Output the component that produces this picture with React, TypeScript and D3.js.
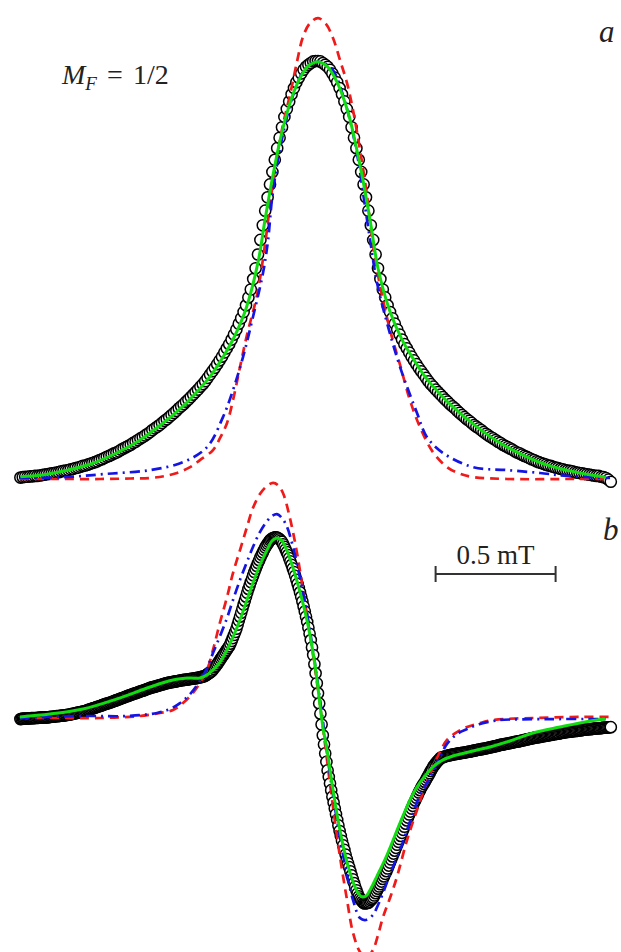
import { useEffect, useRef } from 'react';
import * as d3 from 'd3';

const W = 621;
const H = 952;

// field sweeps of the recorded spectra (mT, relative to the line centre)
const sweepStart = -1.24;
const sweepStepA = 0.01;
const sweepStepB = 0.005;

// a: absorption line, % of maximum (open circles)
const absData = [
  0.1, 0.2, 0.3, 0.3, 0.4, 0.4, 0.5, 0.5, 0.6, 0.7,
  0.8, 0.9, 1.0, 1.1, 1.2, 1.3, 1.4, 1.6, 1.7, 1.8,
  1.9, 2.1, 2.2, 2.4, 2.5, 2.7, 2.9, 3.0, 3.2, 3.4,
  3.6, 3.8, 4.0, 4.3, 4.5, 4.8, 5.1, 5.3, 5.6, 5.9,
  6.1, 6.4, 6.8, 7.1, 7.4, 7.7, 8.0, 8.4, 8.7, 9.1,
  9.5, 9.8, 10.2, 10.6, 11.0, 11.5, 11.9, 12.3, 12.7, 13.2,
  13.7, 14.1, 14.6, 15.1, 15.6, 16.1, 16.7, 17.2, 17.7, 18.3,
  18.8, 19.4, 20.0, 20.6, 21.2, 21.9, 22.5, 23.2, 24.0, 24.8,
  25.6, 26.4, 27.3, 28.2, 29.1, 30.1, 31.1, 32.1, 33.2, 34.4,
  35.6, 37.0, 38.3, 39.8, 41.4, 43.3, 45.2, 47.7, 50.3, 53.6,
  57.1, 60.6, 64.1, 67.3, 70.4, 73.4, 76.3, 79.1, 81.6, 84.1,
  86.6, 88.5, 90.3, 92.0, 93.5, 94.9, 96.0, 97.0, 97.9, 98.6,
  99.1, 99.5, 99.9, 100.0,
  100.0, 99.9, 99.5, 99.1, 98.6, 97.9, 97.0, 96.0, 94.9, 93.5,
  92.0, 90.3, 88.5, 86.6, 84.1, 81.6, 79.1, 76.3, 73.4, 70.4,
  67.3, 64.1, 60.6, 57.1, 53.6, 50.3, 47.7, 45.2, 43.3, 41.4,
  39.8, 38.3, 37.0, 35.6, 34.4, 33.2, 32.1, 31.1, 30.1, 29.1,
  28.2, 27.3, 26.4, 25.6, 24.8, 24.0, 23.2, 22.5, 21.9, 21.2,
  20.6, 20.0, 19.4, 18.8, 18.3, 17.7, 17.2, 16.7, 16.1, 15.6,
  15.1, 14.6, 14.1, 13.7, 13.2, 12.7, 12.3, 11.9, 11.5, 11.0,
  10.6, 10.2, 9.8, 9.5, 9.1, 8.7, 8.4, 8.0, 7.7, 7.4,
  7.1, 6.8, 6.4, 6.1, 5.9, 5.6, 5.3, 5.1, 4.8, 4.5,
  4.3, 4.0, 3.8, 3.6, 3.4, 3.2, 3.0, 2.9, 2.7, 2.5,
  2.4, 2.2, 2.1, 1.9, 1.8, 1.7, 1.6, 1.4, 1.3, 1.2,
  1.1, 1.0, 0.9, 0.8, 0.7, 0.6, 0.5, 0.5, 0.3, 0.2,
  0.0, -0.4, -0.9,
];

// b: first derivative, % of maximum (open circles)
const derivData = [
  -0.6, -0.5, -0.4, -0.4, -0.4, -0.3, -0.3, -0.2, -0.2, -0.1,
  -0.1, -0.1, 0.0, 0.0, 0.1, 0.1, 0.2, 0.2, 0.3, 0.3,
  0.3, 0.3, 0.4, 0.4, 0.5, 0.6, 0.7, 0.7, 0.8, 0.9,
  1.0, 1.0, 1.1, 1.2, 1.3, 1.3, 1.4, 1.5, 1.6, 1.7,
  1.8, 1.9, 2.1, 2.2, 2.4, 2.5, 2.7, 2.8, 3.0, 3.1,
  3.3, 3.4, 3.6, 3.7, 3.9, 4.1, 4.4, 4.6, 4.8, 5.0,
  5.3, 5.5, 5.7, 5.9, 6.2, 6.4, 6.6, 6.8, 7.1, 7.3,
  7.6, 7.8, 8.0, 8.2, 8.4, 8.6, 8.9, 9.1, 9.4, 9.6,
  9.9, 10.1, 10.4, 10.6, 10.9, 11.1, 11.4, 11.6, 11.9, 12.1,
  12.4, 12.6, 12.9, 13.1, 13.4, 13.6, 13.8, 14.0, 14.3, 14.5,
  14.8, 15.0, 15.2, 15.4, 15.7, 15.9, 16.2, 16.4, 16.7, 16.9,
  17.1, 17.2, 17.4, 17.6, 17.8, 18.0, 18.2, 18.4, 18.6, 18.8,
  19.0, 19.2, 19.4, 19.5, 19.7, 19.8, 19.9, 20.0, 20.2, 20.3,
  20.4, 20.5, 20.7, 20.8, 20.9, 21.0, 21.2, 21.2, 21.3, 21.4,
  21.5, 21.6, 21.7, 21.8, 21.9, 22.0, 22.1, 22.2, 22.4, 22.5,
  22.7, 22.8, 23.0, 23.2, 23.4, 23.9, 24.4, 24.8, 25.3, 25.8,
  26.4, 27.3, 28.2, 29.0, 29.9, 30.9, 31.9, 32.9, 33.9, 34.9,
  35.9, 36.9, 37.9, 38.9, 39.9, 41.3, 42.8, 44.4, 46.1, 47.8,
  49.6, 51.8, 54.1, 56.3, 58.5, 60.7, 63.0, 65.2, 67.4, 69.6,
  71.7, 73.6, 75.5, 77.4, 79.3, 81.1, 82.8, 84.5, 86.1, 87.7,
  89.3, 90.7, 92.0, 93.4, 94.7, 95.8, 96.8, 97.8, 98.7, 99.3,
  99.8, 100.1, 100.3, 100.3, 100.2, 99.8, 99.3, 98.6, 97.8, 96.5,
  95.1, 93.6, 92.1, 90.5, 88.8, 87.0, 85.1, 83.1, 81.1, 79.0,
  76.8, 74.5, 72.2, 69.8, 67.3, 64.7, 62.0, 59.2, 56.3, 53.3,
  50.2, 46.8, 43.3, 39.2, 35.0, 29.9, 24.8, 19.3, 13.7, 8.1,
  2.4, -3.6, -9.6, -14.7, -19.7, -24.4, -29.1, -32.8, -36.4, -40.1,
  -43.7, -47.0, -50.3, -53.5, -56.6, -59.7, -62.8, -65.5, -68.2, -70.8,
  -73.3, -75.9, -78.4, -80.7, -82.9, -85.2, -87.4, -89.6, -91.7, -93.7,
  -95.7, -97.5, -99.1, -100.3, -101.2, -102.1, -102.8, -103.0, -102.8, -102.8,
  -102.6, -102.0, -101.2, -100.6, -99.8, -98.6, -97.3, -96.1, -94.8, -93.6,
  -92.3, -90.9, -89.4, -88.0, -86.6, -85.1, -83.6, -82.0, -80.3, -78.6,
  -76.9, -75.3, -73.7, -72.1, -70.4, -68.8, -67.2, -65.5, -63.8, -62.1,
  -60.4, -58.7, -56.9, -55.3, -53.6, -52.0, -50.3, -48.8, -47.2, -45.8,
  -44.3, -42.9, -41.4, -40.1, -38.8, -37.7, -36.6, -35.5, -34.3, -33.1,
  -31.9, -30.7, -29.4, -28.3, -27.1, -26.2, -25.3, -24.5, -23.7, -23.0,
  -22.2, -22.0, -21.8, -21.6, -21.3, -21.1, -20.9, -20.8, -20.6, -20.5,
  -20.3, -20.2, -20.1, -20.0, -19.8, -19.7, -19.6, -19.5, -19.4, -19.3,
  -19.2, -19.1, -18.9, -18.8, -18.7, -18.6, -18.4, -18.3, -18.1, -18.0,
  -17.8, -17.7, -17.6, -17.5, -17.3, -17.2, -17.1, -17.0, -16.8, -16.7,
  -16.5, -16.4, -16.2, -16.1, -15.9, -15.8, -15.6, -15.5, -15.3, -15.1,
  -14.9, -14.8, -14.7, -14.6, -14.4, -14.3, -14.2, -14.1, -13.9, -13.8,
  -13.6, -13.5, -13.3, -13.2, -13.1, -13.0, -12.8, -12.7, -12.5, -12.4,
  -12.2, -12.1, -11.9, -11.8, -11.6, -11.5, -11.3, -11.2, -11.0, -10.9,
  -10.8, -10.7, -10.6, -10.5, -10.3, -10.2, -10.1, -10.0, -9.8, -9.7,
  -9.6, -9.5, -9.4, -9.3, -9.1, -9.0, -8.9, -8.8, -8.7, -8.6,
  -8.4, -8.3, -8.2, -8.1, -7.9, -7.8, -7.7, -7.7, -7.6, -7.5,
  -7.4, -7.3, -7.2, -7.2, -7.1, -7.0, -6.9, -6.8, -6.7, -6.6,
  -6.5, -6.4, -6.3, -6.3, -6.2, -6.2, -6.1, -6.0, -5.9, -5.9,
  -5.8, -5.8, -5.7, -5.7, -5.6, -5.5, -5.4, -5.4, -5.3, -5.3,
  -5.2, -5.2, -5.1,
];

// model curves: [field mT, value %]
const absFit = [
  [-1.24, 0.3], [-1.15, 0.7], [-1.05, 1.8], [-0.95, 3.3], [-0.85, 5.7], [-0.75, 8.8],
  [-0.65, 13.0], [-0.55, 17.9], [-0.45, 24.3], [-0.4, 28.6], [-0.35, 33.7], [-0.3, 40.6],
  [-0.25, 51.7], [-0.22, 62.2], [-0.19, 71.9], [-0.16, 80.5], [-0.13, 87.4], [-0.1, 92.7],
  [-0.07, 96.4], [-0.04, 98.8], [0, 99.8], [0.04, 98.6], [0.07, 96.0], [0.1, 92.1],
  [0.13, 86.7], [0.16, 79.2], [0.19, 70.6], [0.22, 60.8], [0.25, 50.3], [0.3, 39.9],
  [0.35, 33.2], [0.4, 28.3], [0.45, 24.0], [0.55, 17.7], [0.65, 12.8], [0.75, 8.7],
  [0.85, 5.6], [0.95, 3.2], [1.05, 1.7], [1.15, 0.6], [1.2, 0.2],
];

const absGauss = [
  [-1.242, -0.24], [-1.075, -0.24], [-0.908, -0.24], [-0.783, -0.12], [-0.7, 0], [-0.6375, 0.48],
  [-0.5875, 1.2], [-0.533, 2.6], [-0.492, 4.3], [-0.4375, 6.7], [-0.408, 9.6], [-0.379, 13.2],
  [-0.354, 18.7], [-0.325, 26.6], [-0.296, 34.3], [-0.254, 43.9], [-0.221, 55.9], [-0.192, 69.1],
  [-0.171, 77.0], [-0.146, 84.7], [-0.117, 91.8], [-0.0875, 99.8], [-0.0625, 105.8], [-0.033, 109.1],
  [0, 110.3], [0.033, 108.9], [0.0625, 105.5], [0.0917, 100.2], [0.121, 94.7], [0.146, 88.2],
  [0.175, 78.7], [0.204, 67.9], [0.229, 55.9], [0.258, 46.3], [0.3, 35.5], [0.342, 27.1],
  [0.383, 18.7], [0.425, 12.2], [0.479, 6.2], [0.5375, 2.6], [0.592, 1.0], [0.646, 0.24],
  [0.7875, -0.24], [1.0625, -0.24], [1.217, -0.24],
];

const absLorentz = [
  [-1.242, 0], [-1.046, 0.24], [-0.879, 1.0], [-0.7, 1.9], [-0.5625, 3.8], [-0.4625, 7.4],
  [-0.396, 14.6], [-0.354, 21.1], [-0.3125, 29.0], [-0.271, 38.6], [-0.229, 49.2], [-0.208, 57.1],
  [-0.192, 66.7], [-0.167, 76.3], [-0.137, 84.7], [-0.104, 91.8], [-0.0625, 97.4], [-0.029, 99.3],
  [0, 99.8], [0.033, 99.3], [0.0667, 97.4], [0.104, 91.8], [0.1375, 84.7], [0.167, 76.3],
  [0.192, 66.7], [0.217, 57.1], [0.246, 46.8], [0.2875, 37.2], [0.342, 26.6], [0.4125, 15.6],
  [0.454, 9.8], [0.521, 6.0], [0.646, 2.6], [0.7875, 1.9], [0.925, 1.2], [1.0375, 0.5], [1.217, 0],
];

const derivFit = [
  [-1.242, 0.6], [-1.117, 2.2], [-0.979, 5.0], [-0.8375, 10.6], [-0.7, 17.2], [-0.604, 21.1],
  [-0.533, 22.2], [-0.492, 22.2], [-0.4625, 23.9], [-0.4375, 26.7], [-0.408, 31.1], [-0.379, 37.8],
  [-0.354, 45.0], [-0.325, 54.4], [-0.296, 65.6], [-0.271, 75.0], [-0.242, 85.0], [-0.2125, 93.3],
  [-0.192, 98.3], [-0.171, 100.0], [-0.15, 98.3], [-0.129, 92.8], [-0.104, 83.3], [-0.075, 70.0],
  [-0.046, 54.4], [-0.021, 36.7], [-0.004, 21.1], [0.0083, 7.2], [0.021, -5.6], [0.0375, -17.8],
  [0.0625, -40.0], [0.0833, -56.7], [0.104, -70.6], [0.125, -82.2], [0.146, -91.1], [0.167, -97.2],
  [0.183, -99.4], [0.2, -98.9], [0.217, -95.6], [0.246, -87.8], [0.2875, -76.1], [0.342, -58.3],
  [0.383, -45.6], [0.4125, -38.3], [0.446, -32.2], [0.479, -27.2], [0.521, -23.3], [0.5625, -21.1],
  [0.646, -18.3], [0.717, -16.1], [0.8, -12.8], [0.896, -8.3], [1.008, -5.0], [1.1125, -2.2],
  [1.196, -0.6],
];

const derivGauss = [
  [-1.242, 0], [-1.075, 0], [-0.908, 0], [-0.742, 1.1], [-0.658, 2.8], [-0.604, 4.4],
  [-0.5625, 8.3], [-0.521, 13.9], [-0.492, 19.4], [-0.4625, 26.7], [-0.4375, 37.8], [-0.408, 53.3],
  [-0.379, 67.2], [-0.354, 80.6], [-0.325, 93.3], [-0.296, 106.1], [-0.271, 116.7], [-0.242, 124.4],
  [-0.2125, 128.9], [-0.1875, 130.6], [-0.167, 129.4], [-0.146, 125.0], [-0.117, 111.1], [-0.0875, 91.7],
  [-0.0625, 71.1], [-0.033, 46.1], [-0.004, 19.4], [0.021, -5.6], [0.0375, -23.3], [0.0625, -49.4],
  [0.0917, -77.2], [0.121, -101.1], [0.146, -119.4], [0.175, -130.0], [0.2, -133.3], [0.229, -128.9],
  [0.25, -120.6], [0.271, -110.6], [0.3, -100.0], [0.329, -88.3], [0.371, -67.8], [0.4125, -51.1],
  [0.446, -38.3], [0.479, -27.2], [0.508, -18.9], [0.5375, -12.2], [0.579, -7.8], [0.621, -5.0],
  [0.675, -2.8], [0.729, -1.1], [0.896, 0], [1.104, 0.6], [1.217, 0.6],
];

const derivLorentz = [
  [-1.242, 0], [-0.979, 1.1], [-0.796, 1.1], [-0.671, 2.8], [-0.617, 5.0], [-0.575, 8.3],
  [-0.533, 13.3], [-0.492, 20.6], [-0.4625, 27.8], [-0.4375, 36.1], [-0.408, 45.6], [-0.379, 55.6],
  [-0.354, 65.6], [-0.325, 76.7], [-0.296, 86.7], [-0.271, 95.0], [-0.242, 103.3], [-0.2125, 109.4],
  [-0.192, 112.2], [-0.171, 113.3], [-0.15, 111.1], [-0.129, 106.1], [-0.104, 95.0], [-0.075, 77.8],
  [-0.046, 58.3], [-0.021, 37.8], [0, 18.3], [0.021, -2.2], [0.0417, -23.3], [0.0625, -42.8],
  [0.0917, -66.7], [0.121, -87.2], [0.146, -101.1], [0.175, -111.1], [0.2, -112.2], [0.229, -109.4],
  [0.25, -103.9], [0.271, -97.2], [0.3, -86.7], [0.342, -73.3], [0.371, -62.2], [0.396, -52.8],
  [0.425, -42.8], [0.454, -36.1], [0.479, -29.4], [0.508, -21.7], [0.5375, -14.4], [0.579, -8.9],
  [0.621, -6.1], [0.675, -3.3], [0.729, -1.7], [0.758, -1.1], [0.967, -0.6], [1.217, -0.6],
];

// scale bar ends, mT
const scaleBar = [0.49, 0.99];

const GREEN = '#10dc10';
const RED = '#ef1a1a';
const BLUE = '#1414e4';
const SERIF = 'Liberation Serif';

function App() {
  const ref = useRef<SVGSVGElement>(null);

  useEffect(() => {
    const svg = d3.select(ref.current);
    svg.selectAll('*').remove();

    const x = d3.scaleLinear().domain([-1.25, 1.25]).range([18, 618]);
    const yA = d3.scaleLinear().domain([0, 100]).range([478, 61]);
    const yB = d3.scaleLinear().domain([-100, 100]).range([898, 538]);

    svg.append('rect').attr('width', W).attr('height', H).attr('fill', 'white');

    const drawCircles = (vals: number[], step: number, y: d3.ScaleLinear<number, number>) => {
      svg.append('g')
        .selectAll('circle')
        .data(vals)
        .enter()
        .append('circle')
        .attr('cx', (d, i) => x(sweepStart + i * step))
        .attr('cy', d => y(d))
        .attr('r', 5.6)
        .attr('fill', 'white')
        .attr('stroke', 'black')
        .attr('stroke-width', 1.5);
    };

    const drawLine = (pts: number[][], y: d3.ScaleLinear<number, number>, color: string, dash: string | null) => {
      const line = d3.line<number[]>()
        .x(d => x(d[0]))
        .y(d => y(d[1]))
        .curve(d3.curveCatmullRom.alpha(0.5));
      const p = svg.append('path')
        .attr('d', line(pts))
        .attr('fill', 'none')
        .attr('stroke', color)
        .attr('stroke-width', dash ? 2.7 : 3)
        .attr('stroke-linecap', 'butt');
      if (dash) p.attr('stroke-dasharray', dash);
    };

    drawCircles(absData, sweepStepA, yA);
    drawCircles(derivData, sweepStepB, yB);

    drawLine(absGauss, yA, RED, '9,6');
    drawLine(absLorentz, yA, BLUE, '10,5,2,5');
    drawLine(absFit, yA, GREEN, null);

    drawLine(derivGauss, yB, RED, '9,6');
    drawLine(derivLorentz, yB, BLUE, '10,5,2,5');
    drawLine(derivFit, yB, GREEN, null);

    // scale bar
    const sb = svg.append('g').attr('stroke', '#333').attr('stroke-width', 2);
    sb.append('line').attr('x1', x(scaleBar[0])).attr('x2', x(scaleBar[1])).attr('y1', 574).attr('y2', 574);
    scaleBar.forEach(v => {
      sb.append('line').attr('x1', x(v)).attr('x2', x(v)).attr('y1', 566).attr('y2', 582);
    });
    svg.append('text')
      .attr('x', (x(scaleBar[0]) + x(scaleBar[1])) / 2)
      .attr('y', 564)
      .attr('text-anchor', 'middle')
      .attr('font-family', SERIF)
      .attr('font-size', 27)
      .attr('fill', '#222')
      .text('0.5 mT');

    // labels
    const mf = svg.append('text')
      .attr('y', 84)
      .attr('font-family', SERIF)
      .attr('font-size', 28)
      .attr('fill', '#222');
    mf.append('tspan').attr('x', 62).attr('font-style', 'italic').text('M');
    mf.append('tspan').attr('font-style', 'italic').attr('font-size', 19).attr('dy', 6).text('F');
    mf.append('tspan').attr('x', 107).attr('dy', -6).text('=');
    mf.append('tspan').attr('x', 133).text('1/2');

    svg.append('text')
      .attr('x', 599).attr('y', 42)
      .attr('font-family', SERIF).attr('font-size', 31).attr('font-style', 'italic').attr('fill', '#222')
      .text('a');
    svg.append('text')
      .attr('x', 603).attr('y', 540)
      .attr('font-family', SERIF).attr('font-size', 31).attr('font-style', 'italic').attr('fill', '#222')
      .text('b');
  }, []);

  return <svg ref={ref} width={W} height={H} style={{ position: 'absolute', left: 0, top: 0, display: 'block' }} />;
}

export default App;
